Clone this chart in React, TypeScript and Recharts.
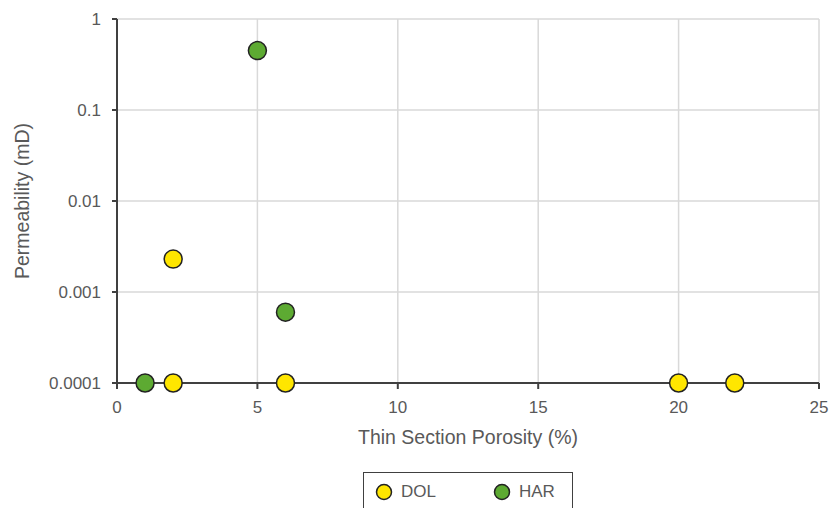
import React from 'react';
import { ScatterChart, Scatter, XAxis, YAxis, CartesianGrid, Legend } from 'recharts';

const dolX = [2, 2, 6, 20, 22];
const dolY = [0.0023, 0.0001, 0.0001, 0.0001, 0.0001];
const harX = [5, 6, 1];
const harY = [0.45, 0.0006, 0.0001];
const xTicks = [0, 5, 10, 15, 20, 25];
const yTicks = [0.0001, 0.001, 0.01, 0.1, 1];
const seriesNames = ['DOL', 'HAR'];
const seriesColors = ['#FFE600', '#5DAA32'];

const dolData = dolX.map((x, i) => ({ x, y: dolY[i] }));
const harData = harX.map((x, i) => ({ x, y: harY[i] }));

const FONT = '"Liberation Sans", Arial, sans-serif';
const TEXT = '#595959';
const AXIS = '#404040';

const makeShape = (fill: string) => (props: any) => (
  <circle cx={props.cx} cy={props.cy} r={9} fill={fill} stroke="#222" strokeWidth={1.5} />
);

const LegendBox = () => (
  <div style={{ position: 'absolute', left: 0, top: 0, width: 212, height: 36, overflow: 'hidden' }}>
    <div style={{ position: 'absolute', left: 0, top: 0, width: 208, height: 44, border: '1.5px solid #404040', background: '#fff', fontFamily: FONT, fontSize: 17, color: TEXT }}>
      {seriesNames.map((n, i) => (
        <div key={n} style={{ position: 'absolute', left: i === 0 ? 11 : 129, top: 10, display: 'flex', alignItems: 'center' }}>
          <svg width={18} height={18} style={{ display: 'block' }}>
            <circle cx={9} cy={9} r={7.5} fill={seriesColors[i]} stroke="#222" strokeWidth={1.5} />
          </svg>
          <span style={{ marginLeft: 8, lineHeight: '18px' }}>{n}</span>
        </div>
      ))}
    </div>
  </div>
);

const XLabel = (props: any) => {
  const vb = props.viewBox;
  return (
    <text x={vb.x + vb.width / 2} y={vb.y + 54} textAnchor="middle" dominantBaseline="central" fill={TEXT} fontSize={19.5} fontFamily={FONT}>
      Thin Section Porosity (%)
    </text>
  );
};

const YLabel = (props: any) => {
  const vb = props.viewBox;
  const cx = 22;
  const cy = vb.y + vb.height / 2;
  return (
    <text x={cx} y={cy} transform={`rotate(-90 ${cx} ${cy})`} textAnchor="middle" dominantBaseline="central" fill={TEXT} fontSize={19.5} fontFamily={FONT}>
      Permeability (mD)
    </text>
  );
};

export default function App() {
  return (
    <div style={{ width: 831 }}>
      <style>{`html{overflow:hidden} body{margin:0} #root{width:831px} svg.recharts-surface{overflow:visible}`}</style>
      <ScatterChart width={831} height={508} margin={{ top: 19, right: 12, left: 8, bottom: 65 }} style={{ fontFamily: FONT }}>
        <CartesianGrid stroke="#d9d9d9" strokeWidth={1.5} />
        <XAxis
          type="number"
          dataKey="x"
          domain={[0, 25]}
          ticks={xTicks}
          interval={0}
          tickSize={6}
          tickMargin={12}
          height={60}
          stroke={AXIS}
          strokeWidth={2}
          tick={{ fill: TEXT, fontSize: 17, fontFamily: FONT }}
          label={<XLabel />}
        />
        <YAxis
          type="number"
          dataKey="y"
          scale="log"
          domain={[0.0001, 1]}
          ticks={yTicks}
          interval={0}
          width={109}
          tickSize={5}
          tickMargin={11}
          stroke={AXIS}
          strokeWidth={2}
          tick={{ fill: TEXT, fontSize: 17, fontFamily: FONT }}
          tickFormatter={(v: number) => String(v)}
          label={<YLabel />}
        />
        <Legend
          content={<LegendBox />}
          wrapperStyle={{ position: 'absolute', left: 363, top: 472, width: 212, height: 0 }}
        />
        <Scatter name="DOL" data={dolData} fill={seriesColors[0]} shape={makeShape(seriesColors[0])} isAnimationActive={false} />
        <Scatter name="HAR" data={harData} fill={seriesColors[1]} shape={makeShape(seriesColors[1])} isAnimationActive={false} />
      </ScatterChart>
    </div>
  );
}
